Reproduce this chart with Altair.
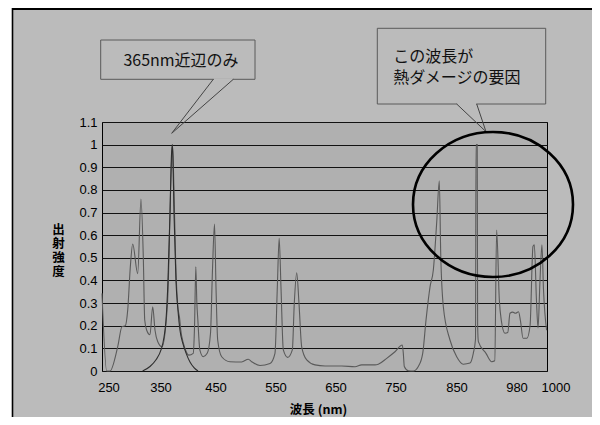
import altair as alt
import pandas as pd

# ---- data ----
main_nm = [236.5, 245.6, 251.9, 266.7, 275, 281.3, 286, 291, 295.6, 305.2,
           311.5, 316, 318.7, 322.5, 328.8, 334, 338.5, 343.6, 351.8, 361.8,
           364.5, 367.4, 370.9, 373.6, 376.5, 380, 384.2, 385.5, 391, 394.6,
           400.6, 408.6, 411, 413.3, 415.2, 417, 420.6, 426.8, 434, 440,
           443.6, 447.3, 450, 452.8, 459.5, 473.3, 492.8, 503.8, 509.5, 523.3,
           540, 548.3, 552.2, 555.3, 558.3, 562.2, 569.5, 577.2, 580.5, 584.5,
           588.3, 592.8, 601.2, 615, 631.7, 659.5, 681.7, 692.8, 715, 720.5,
           734.5, 748.3, 760.3, 762, 763.6, 770.2, 778.4, 786.6, 793.8, 799.2,
           805.8, 811.2, 816.8, 821, 823.3, 827.6, 838.5, 849.5, 863.7, 878.2,
           885.3, 890.1, 891.2, 893.8, 894.7, 896.3, 912.8, 925.3, 931.8, 935.9,
           941.8, 945.9, 953.9, 960, 964.8, 970.8, 976.7, 980.8, 981.8, 983.1,
           985.1, 986.7, 988.2, 988.9, 990, 990.8, 991.8, 992.8, 993.6, 995.2]
main_val = [0.343, 0.0, 0.0, 0.107, 0.196, 0.2, 0.27, 0.46, 0.561, 0.43,
            0.76, 0.50, 0.225, 0.18, 0.16, 0.284, 0.18, 0.13, 0.107, 0.3,
            0.5, 0.8, 1.0, 0.8, 0.5, 0.3, 0.225, 0.19, 0.12, 0.093,
            0.07, 0.078, 0.2, 0.46, 0.3, 0.225, 0.093, 0.063, 0.078, 0.167,
            0.446, 0.649, 0.37, 0.137, 0.063, 0.041, 0.04, 0.052, 0.041, 0.024,
            0.033, 0.078, 0.37, 0.586, 0.37, 0.093, 0.06, 0.093, 0.3, 0.434,
            0.3, 0.107, 0.049, 0.027, 0.022, 0.022, 0.019, 0.027, 0.027, 0.03,
            0.056, 0.085, 0.115, 0.078, 0.02, 0.001, 0.0, 0.02, 0.078, 0.225,
            0.372, 0.446, 0.66, 0.84, 0.52, 0.284, 0.137, 0.063, 0.03, 0.035,
            0.078, 0.14, 1.0, 1.0, 0.2, 0.13, 0.078, 0.041, 0.045, 0.623,
            0.31, 0.225, 0.167, 0.17, 0.255, 0.26, 0.255, 0.262, 0.22, 0.145,
            0.145, 0.2, 0.55, 0.558, 0.31, 0.19, 0.4, 0.558, 0.36, 0.18]

peak_nm = [314.6, 328.8, 340.4, 350, 355.5, 359.1, 362.7, 366.4, 369, 370.4,
           371.6, 373.6, 377.2, 380.8, 384.5, 390, 395.4, 402.7, 410, 417.3]
peak_val = [0.0, 0.02, 0.05, 0.093, 0.15, 0.225, 0.4, 0.7, 0.95, 1.0,
            0.95, 0.7, 0.4, 0.27, 0.18, 0.12, 0.08, 0.04, 0.015, 0.0]

tick_nm = [250, 350, 450, 550, 650, 750, 850, 980, 1000]
tick_labels = ["250", "350", "450", "550", "650", "750", "850", "980", "1000"]
y_ticks = [0, 0.1, 0.2, 0.3, 0.4, 0.5, 0.6, 0.7, 0.8, 0.9, 1.0, 1.1]

# axis layout (label positions along the plot width, as drawn in the original)
x_domain = [236.5, 250, 350, 450, 550, 650, 750, 850, 980, 995.4]
x_range = [0, 7, 59, 114, 174, 234, 294, 355, 415, 445]

BG = "#bbbbbb"
PLOT = "#b0b0b0"
JP = "Noto Sans CJK JP"
LAT = "Liberation Sans"

df = pd.concat([
    pd.DataFrame({"nm": main_nm, "val": main_val, "series": "main"}),
    pd.DataFrame({"nm": peak_nm, "val": peak_val, "series": "peak365"}),
], ignore_index=True)
ticks_df = pd.DataFrame({"nm": tick_nm, "label": tick_labels})
one = pd.DataFrame({"k": [0]})

xscale = alt.Scale(domain=x_domain, range=x_range, nice=False, zero=False)
x_axis = alt.Axis(labels=False, ticks=False, domain=False, grid=False,
                  title="波長 (nm)", titleFont=JP, titleFontSize=12.5,
                  titleFontWeight="bold", titleColor="#000",
                  titleX=216, titleY=38, titleAlign="center",
                  titleBaseline="middle")
y_axis = alt.Axis(values=y_ticks, format=".1~f", grid=True, gridColor="#111",
                  gridWidth=1, ticks=False, domain=False,
                  labelFont=LAT, labelFontSize=13, labelColor="#000",
                  labelPadding=5,
                  title=["出", "射", "強", "度"], titleAngle=0,
                  titleX=-44, titleY=101, titleAlign="center",
                  titleBaseline="top", titleFont=JP, titleFontSize=12.5,
                  titleFontWeight="bold", titleLineHeight=14,
                  titleColor="#000")

lines = alt.Chart(df).mark_line(interpolate="monotone", strokeWidth=1.1).encode(
    x=alt.X("nm:Q", scale=xscale, axis=x_axis),
    y=alt.Y("val:Q", scale=alt.Scale(domain=[0, 1.1], nice=False), axis=y_axis),
    color=alt.Color("series:N",
                    scale=alt.Scale(domain=["main", "peak365"],
                                    range=["#5a5a5a", "#2e2e2e"]),
                    legend=None),
)

xlabels = alt.Chart(ticks_df).mark_text(
    font=LAT, fontSize=13, color="#000", baseline="middle", align="center"
).encode(
    x=alt.X("nm:Q", scale=xscale, axis=x_axis),
    y=alt.value(265.5),
    text="label:N",
)


def deco():
    return alt.Chart(one)


def rule(x1, y1, x2, y2, color, w):
    return deco().mark_rule(color=color, strokeWidth=w).encode(
        x=alt.value(x1), y=alt.value(y1), x2=alt.value(x2), y2=alt.value(y2))


def box(x1, y1, x2, y2):
    return deco().mark_rect(fill=BG, stroke="#5a5a5a", strokeWidth=1).encode(
        x=alt.value(x1), y=alt.value(y1), x2=alt.value(x2), y2=alt.value(y2))


def label(x, y, txt, align):
    return deco().mark_text(font=JP, fontSize=16, color="#111",
                            align=align, baseline="middle").encode(
        x=alt.value(x), y=alt.value(y), text=alt.value(txt))


white_strip = deco().mark_rect(fill="white").encode(
    x=alt.value(-95), x2=alt.value(-90), y=alt.value(-115), y2=alt.value(300))
frame_top = rule(-90, -113, 500, -113, "#000", 2)
frame_left = rule(-89.5, -114, -89.5, 300, "#000", 1.6)

# callout 1
b1 = box(-1.3, -82, 153, -42.7)
b1gap = rule(111.8, -42.7, 130.8, -42.7, BG, 2)
b1l = rule(111.3, -42.7, 69.7, 11.3, "#444", 1)
b1r = rule(131.3, -42.7, 69.7, 11.3, "#444", 1)
t1 = label(79, -61, "365nm近辺のみ", "center")

# callout 2
b2 = box(275.3, -93.7, 443.7, -18)
b2gap = rule(355.2, -18, 374.2, -18, BG, 2)
b2l = rule(354.7, -18, 384, 9.7, "#444", 1)
b2r = rule(374.7, -18, 384, 9.7, "#444", 1)
t2a = label(291.3, -65.3, "この波長が", "left")
t2b = label(291.3, -43.7, "熱ダメージの要因", "left")

ellipse_path = ("M 1 0 C 1 0.5004 0.5523 0.906 0 0.906 "
                "C -0.5523 0.906 -1 0.5004 -1 0 "
                "C -1 -0.5004 -0.5523 -0.906 0 -0.906 "
                "C 0.5523 -0.906 1 -0.5004 1 0 Z")
ellipse = deco().mark_point(shape=ellipse_path, filled=False, stroke="#000",
                            strokeWidth=2.6, opacity=1).encode(
    x=alt.value(391), y=alt.value(82.5), size=alt.value(25600))

chart = alt.layer(
    white_strip, frame_top, frame_left,
    b1, b1gap, b1l, b1r, t1,
    b2, b2gap, b2l, b2r, t2a, t2b,
    lines, xlabels, ellipse,
).properties(
    width=445, height=249,
    padding={"left": 94, "top": 114, "right": 45, "bottom": 46},
    autosize=alt.AutoSizeParams(type="none"),
    background=BG,
).configure_view(fill=PLOT, stroke="#000", strokeWidth=1)

chart.save("out.html", embed_options={"renderer": "svg", "actions": False})
